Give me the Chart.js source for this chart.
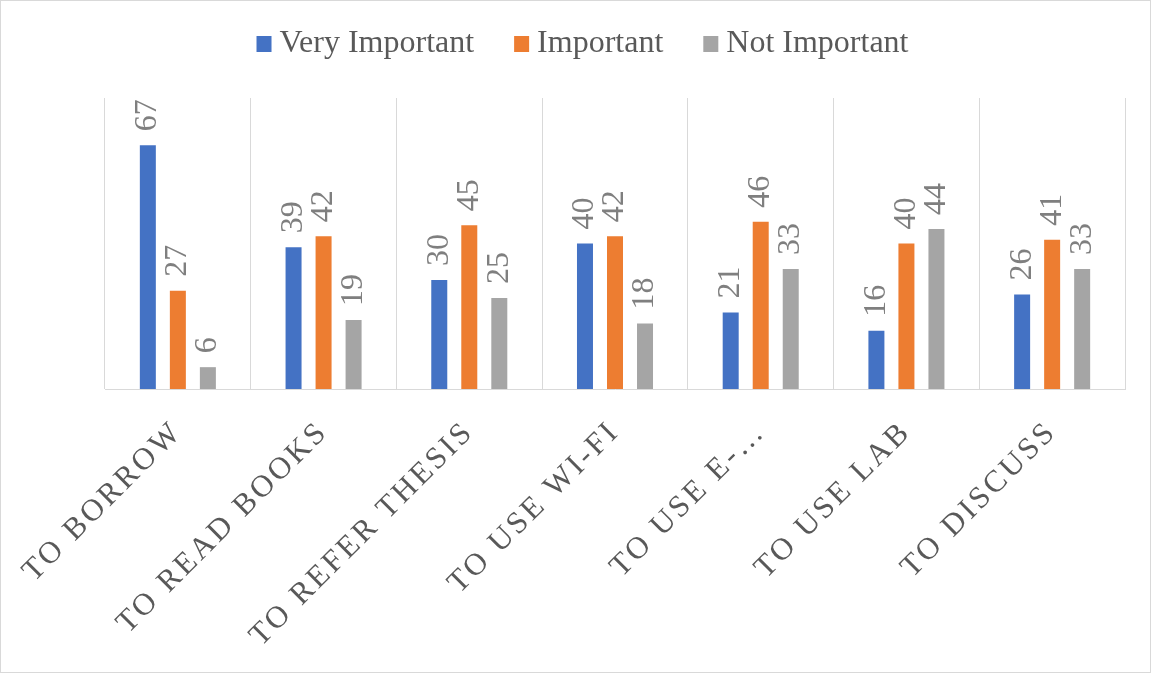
<!DOCTYPE html>
<html>
<head>
<meta charset="utf-8">
<script src="https://cdn.jsdelivr.net/npm/chart.js@4/dist/chart.umd.min.js"></script>
<style>
  body { margin: 0; background: #fff; }
  #wrap { width: 1151px; height: 673px; box-sizing: border-box; border: 1px solid #d9d9d9; }
  canvas { display: block; }
</style>
</head>
<body>
<div id="wrap"><canvas id="chart" width="1149" height="671"></canvas></div>
<script>
const categories = ['TO BORROW', 'TO READ BOOKS', 'TO REFER THESIS', 'TO USE WI-FI', 'TO USE E-…', 'TO USE LAB', 'TO DISCUSS'];
const veryImportant = [67, 39, 30, 40, 21, 16, 26];
const important = [27, 42, 45, 42, 46, 40, 41];
const notImportant = [6, 19, 25, 18, 33, 44, 33];

const serif = "'Liberation Serif', 'Times New Roman', serif";

// value labels standing upright above each bar
const barLabels = {
    id: 'barLabels',
    afterDatasetsDraw(chart) {
        const ctx = chart.ctx;
        ctx.save();
        ctx.font = '32px ' + serif;
        ctx.fillStyle = '#7f7f7f';
        ctx.textAlign = 'left';
        ctx.textBaseline = 'middle';
        chart.data.datasets.forEach((ds, i) => {
            chart.getDatasetMeta(i).data.forEach((bar, j) => {
                ctx.save();
                ctx.translate(bar.x, bar.y - 14);
                ctx.rotate(-Math.PI / 2);
                ctx.fillText(String(ds.data[j]), 0, 0);
                ctx.restore();
            });
        });
        ctx.restore();
    }
};

// legend with the small box-to-text gap used by the original
const topLegend = {
    id: 'topLegend',
    afterDraw(chart) {
        const ctx = chart.ctx;
        const box = 15, gap = 8, between = 40;
        ctx.save();
        ctx.font = '32px ' + serif;
        ctx.textBaseline = 'middle';
        ctx.textAlign = 'left';
        const items = chart.data.datasets.map(ds => ({
            text: ds.label, color: ds.backgroundColor, w: ctx.measureText(ds.label).width
        }));
        const total = items.reduce((s, it) => s + box + gap + it.w, 0) + between * (items.length - 1);
        let x = (chart.width - total) / 2 + 7;
        items.forEach(it => {
            ctx.fillStyle = it.color;
            ctx.fillRect(x, 35, box, 16);
            ctx.fillStyle = '#595959';
            ctx.fillText(it.text, x + box + gap, 43);
            x += box + gap + it.w + between;
        });
        ctx.restore();
    }
};

// spaced-out capitals on the category axis
const spacedTicks = {
    id: 'spacedTicks',
    beforeDraw(chart) {
        const s = chart.scales.x;
        if (s._spaced) return;
        const orig = s.drawLabels.bind(s);
        s.drawLabels = function (area) {
            chart.ctx.save();
            chart.ctx.letterSpacing = '3px';
            orig(area);
            chart.ctx.restore();
        };
        s._spaced = true;
    }
};

new Chart(document.getElementById('chart').getContext('2d'), {
    type: 'bar',
    data: {
        labels: categories,
        datasets: [
            { label: 'Very Important', data: veryImportant, backgroundColor: '#4472c4' },
            { label: 'Important', data: important, backgroundColor: '#ed7d31' },
            { label: 'Not Important', data: notImportant, backgroundColor: '#a5a5a5' }
        ]
    },
    options: {
        responsive: false,
        animation: false,
        layout: { padding: { left: 104, right: 25, top: 97, bottom: 0 } },
        datasets: { bar: { categoryPercentage: 0.618, barPercentage: 0.533, borderWidth: 0 } },
        scales: {
            x: {
                grid: { color: '#d9d9d9', lineWidth: 1, drawTicks: false, offset: true },
                border: { color: '#d9d9d9', width: 1 },
                ticks: {
                    autoSkip: false, minRotation: 45, maxRotation: 45, padding: 25,
                    color: '#595959', font: { family: serif, size: 31 }
                },
                afterFit: s => { s.height = 283; }
            },
            y: { display: false, min: 0, max: 80 }
        },
        plugins: {
            legend: { display: false },
            tooltip: { enabled: false }
        }
    },
    plugins: [barLabels, topLegend, spacedTicks]
});
</script>
</body>
</html>
